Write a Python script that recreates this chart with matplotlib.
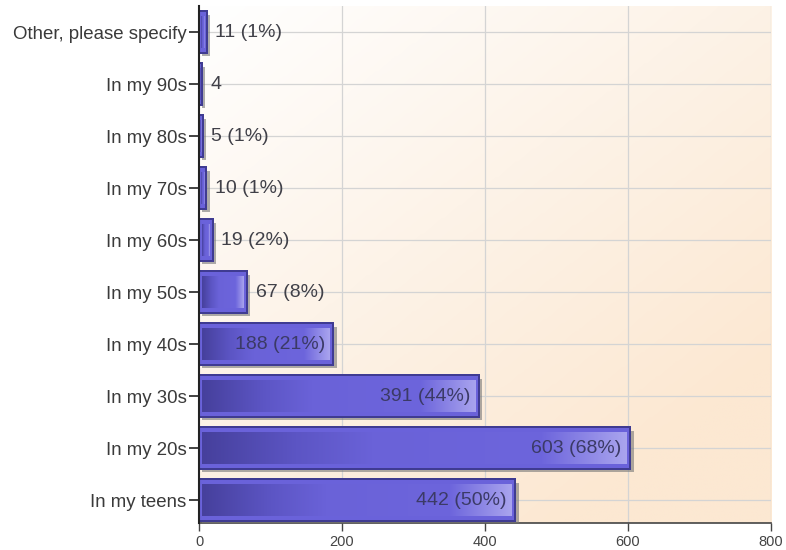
import numpy as np
import matplotlib
matplotlib.use("Agg")
import matplotlib.pyplot as plt
import matplotlib.patheffects as pe
from matplotlib.colors import LinearSegmentedColormap

plt.rcParams['font.family'] = ['Liberation Sans', 'DejaVu Sans']

categories = ['Other, please specify', 'In my 90s', 'In my 80s', 'In my 70s', 'In my 60s',
              'In my 50s', 'In my 40s', 'In my 30s', 'In my 20s', 'In my teens']
counts = [11, 4, 5, 10, 19, 67, 188, 391, 603, 442]
labels = ['11 (1%)', '4', '5 (1%)', '10 (1%)', '19 (2%)', '67 (8%)',
          '188 (21%)', '391 (44%)', '603 (68%)', '442 (50%)']
xticks = [0, 200, 400, 600, 800]

fig = plt.figure(figsize=(7.86, 5.5), dpi=100)
ax = fig.add_axes([0.2532, 0.0491, 0.7278, 0.9400])

# background gradient white -> peach
nx, ny = 200, 200
gx, gy = np.meshgrid(np.linspace(0, 1, nx), np.linspace(0, 1, ny))
t = np.clip(0.55 * gx + 0.65 * gy, 0, 1)
bg_cmap = LinearSegmentedColormap.from_list('bg', ['#ffffff', '#fdf3e8', '#fce8d2'])
ax.imshow(t, cmap=bg_cmap, extent=[0, 1, 0, 1], transform=ax.transAxes,
          aspect='auto', origin='upper', zorder=0, interpolation='bilinear')
ax.set_xlim(0, 800)
y = np.arange(len(categories))
ax.set_ylim(len(categories) - 0.56, -0.5)

for xt in xticks[1:]:
    ax.axvline(xt, color='#d4d4d4', lw=0.9, zorder=1)
for yy in y:
    ax.axhline(yy, color='#d4d4d4', lw=0.9, zorder=1)

bars = ax.barh(y, counts, height=0.8, color='#6a62da', edgecolor='#3f3b92', lw=1.4, zorder=3)
for b in bars:
    b.set_path_effects([pe.SimplePatchShadow(offset=(2.5, -2.5), shadow_rgbFace='#777777', alpha=0.6),
                        pe.Normal()])

bar_cmap = LinearSegmentedColormap.from_list(
    'bar', [(0, '#46409c'), (0.22, '#5c55c4'), (0.4, '#6a62d8'), (0.8, '#6d65dc'), (1.0, '#a9a4ee')])
grad = np.linspace(0, 1, 256).reshape(1, -1)
for b in bars:
    x0, y0 = b.get_x(), b.get_y()
    w, h = b.get_width(), b.get_height()
    ix = min(4.5, w * 0.25)
    im = ax.imshow(grad, cmap=bar_cmap, extent=[x0 + ix, x0 + w - ix, y0 + h - 0.1, y0 + 0.1],
                   aspect='auto', zorder=4, interpolation='bilinear')
    im.set_clip_path(b)
ax.barh(y, counts, height=0.8, color='none', edgecolor='#3f3b92', lw=1.4, zorder=5)

for yy, v, lab in zip(y, counts, labels):
    if v > 150:
        ax.text(v - 12, yy, lab, ha='right', va='center', fontsize=14, color='#3b3a66', zorder=6)
    else:
        ax.text(v + 12, yy, lab, ha='left', va='center', fontsize=14, color='#404048', zorder=6)

ax.set_yticks(y)
ax.set_yticklabels(categories, fontsize=13.4, color='#3a3a3a')
ax.set_xticks(xticks)
ax.set_xticklabels([str(v) for v in xticks], fontsize=10.5, color='#444444')
ax.tick_params(axis='y', length=7, width=1.2, color='#222222', pad=2)
ax.tick_params(axis='x', length=6, width=1, color='#444444', pad=3)

for s in ['top', 'right']:
    ax.spines[s].set_visible(False)
ax.spines['left'].set_color('#222222')
ax.spines['left'].set_linewidth(1.5)
ax.spines['bottom'].set_color('#444444')
ax.spines['bottom'].set_linewidth(1.2)
ax.spines['left'].set_zorder(7)

fig.savefig('out.png', dpi=100, facecolor='white')
